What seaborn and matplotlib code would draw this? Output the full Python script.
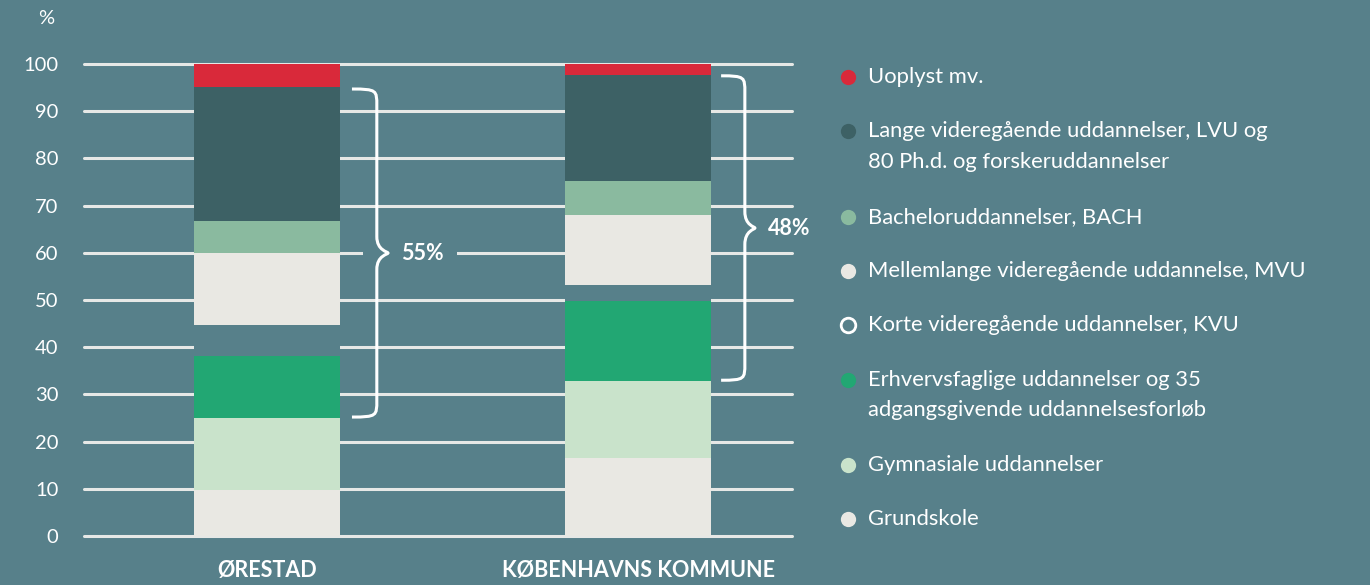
import matplotlib
matplotlib.use("Agg")
import matplotlib.pyplot as plt
import matplotlib.patches as mpatches
from matplotlib.path import Path
from matplotlib.lines import Line2D
import numpy as np
import pandas as pd
import seaborn as sns

# data, bottom segment first
areas = ["ØRESTAD", "KØBENHAVNS KOMMUNE"]
levels = ["Grundskole",
          "Gymnasiale uddannelser",
          "Erhvervsfaglige uddannelser og 35\nadgangsgivende uddannelsesforløb",
          "Korte videregående uddannelser, KVU",
          "Mellemlange videregående uddannelse, MVU",
          "Bacheloruddannelser, BACH",
          "Lange videregående uddannelser, LVU og\n80 Ph.d. og forskeruddannelser",
          "Uoplyst mv."]
orestad = [9.8, 15.2, 13.1, 6.6, 15.3, 6.7, 28.4, 4.9]
kbh = [16.5, 16.3, 17.0, 3.4, 14.8, 7.2, 22.5, 2.3]
brace_spans = [(25.2, 94.7), (33.0, 97.5)]
brace_labels = ["55%", "48%"]

bg = "#57808a"
colors = ["#e9e8e3", "#c9e3cb", "#22a773", bg, "#e9e8e3", "#8aba9f", "#3d6165", "#d9293a"]
white = "#ffffff"
grid_c = "#e6e8e6"

sns.set_style("white", {"axes.facecolor": bg, "figure.facecolor": bg})
plt.rcParams["font.family"] = ["Lato", "DejaVu Sans"]

fig = plt.figure(figsize=(13.7, 5.85), dpi=100)
ax = fig.add_axes([84 / 1370, 1 - 536 / 585, 708 / 1370, 472 / 585])
ax.set_facecolor(bg)

df = pd.DataFrame({"area": np.repeat(areas, len(levels)),
                   "level": levels * len(areas),
                   "value": orestad + kbh})

yticks = np.arange(0, 101, 10)
for t in yticks:
    ax.axhline(t, color=grid_c, lw=2.2, zorder=0, clip_on=False)

bottom = np.zeros(len(areas))
for lvl, col in zip(levels, colors):
    sub = df[df["level"] == lvl]
    vals = sub["value"].to_numpy()
    sns.barplot(x=sub["area"].tolist(), y=vals, bottom=bottom, color=col,
                width=146 / 371, linewidth=0, saturation=1, errorbar=None,
                ax=ax, zorder=2)
    bottom = bottom + vals

ax.set_xlim(-(267 - 84) / 371, 1 + (792 - 638) / 371)
ax.set_ylim(0, 100)
for s in ax.spines.values():
    s.set_visible(False)
ax.set_yticks(yticks)
ax.set_yticklabels([str(t) for t in yticks])
ax.tick_params(axis="y", length=0, pad=18.5, labelsize=14.5, labelcolor=white)
ax.tick_params(axis="x", length=0, pad=17, labelcolor=white)
for lab in ax.get_xticklabels():
    lab.set_fontweight("bold")
    lab.set_fontsize(15.5)
ax.set_xlabel("")
ax.set_ylabel("")
fig.text(46 / 1370, 1 - 18 / 585, "%", color=white, fontsize=14.5,
         ha="center", va="center")


def brace(ax, xc, y0, y1, x_end, x_spine, x_tip):
    ym = (y0 + y1) / 2
    r = 3.5
    verts = [(x_end, y1),
             (x_spine, y1), (x_spine, y1 - 0.3), (x_spine, y1 - r),
             (x_spine, ym + r),
             (x_spine, ym + 0.5), (x_tip, ym + 0.3), (x_tip, ym),
             (x_tip, ym - 0.3), (x_spine, ym - 0.5), (x_spine, ym - r),
             (x_spine, y0 + r),
             (x_spine, y0 + 0.3), (x_spine, y0), (x_end, y0)]
    verts = [(xc + vx, vy) for vx, vy in verts]
    codes = [Path.MOVETO,
             Path.CURVE4, Path.CURVE4, Path.CURVE4,
             Path.LINETO,
             Path.CURVE4, Path.CURVE4, Path.CURVE4,
             Path.CURVE4, Path.CURVE4, Path.CURVE4,
             Path.LINETO,
             Path.CURVE4, Path.CURVE4, Path.CURVE4]
    ax.add_patch(mpatches.PathPatch(Path(verts, codes), fill=False,
                                    edgecolor=white, lw=2.2, zorder=4,
                                    clip_on=False))
    return ym


# gap in the grid line around the Ørestad label
ax.add_patch(mpatches.Rectangle(((363 - 267) / 371, 58.5), (457 - 363) / 371, 3,
                                facecolor=bg, edgecolor="none", zorder=1))

brace_geom = [(0.229, 0.296, 0.326), (0.224, 0.288, 0.315)]
for i, ((y0, y1), lab, (xe, xs, xt)) in enumerate(zip(brace_spans, brace_labels, brace_geom)):
    ym = brace(ax, i, y0, y1, xe, xs, xt)
    ax.text(i + xt + 0.035, ym, lab, color=white, fontsize=15.5,
            fontweight="bold", ha="left", va="center", zorder=5)

# legend, top to bottom
row_y = 77
for lvl, col in zip(levels[::-1], colors[::-1]):
    yf = 1 - row_y / 585
    if col == bg:
        mk = Line2D([848 / 1370], [yf], marker="o", ms=10.5, mfc="none",
                    mec=white, mew=2, transform=fig.transFigure)
    else:
        mk = Line2D([848 / 1370], [yf], marker="o", ms=11, mfc=col,
                    mec="none", transform=fig.transFigure)
    fig.add_artist(mk)
    lines = lvl.split("\n")
    for j, ln in enumerate(lines):
        fig.text(868 / 1370, 1 - (row_y + 31 * j) / 585, ln, color=white,
                 fontsize=15.8, ha="left", va="center")
    row_y += 54.3 + 31 * (len(lines) - 1)

fig.savefig("out.png", dpi=100, facecolor=bg)
